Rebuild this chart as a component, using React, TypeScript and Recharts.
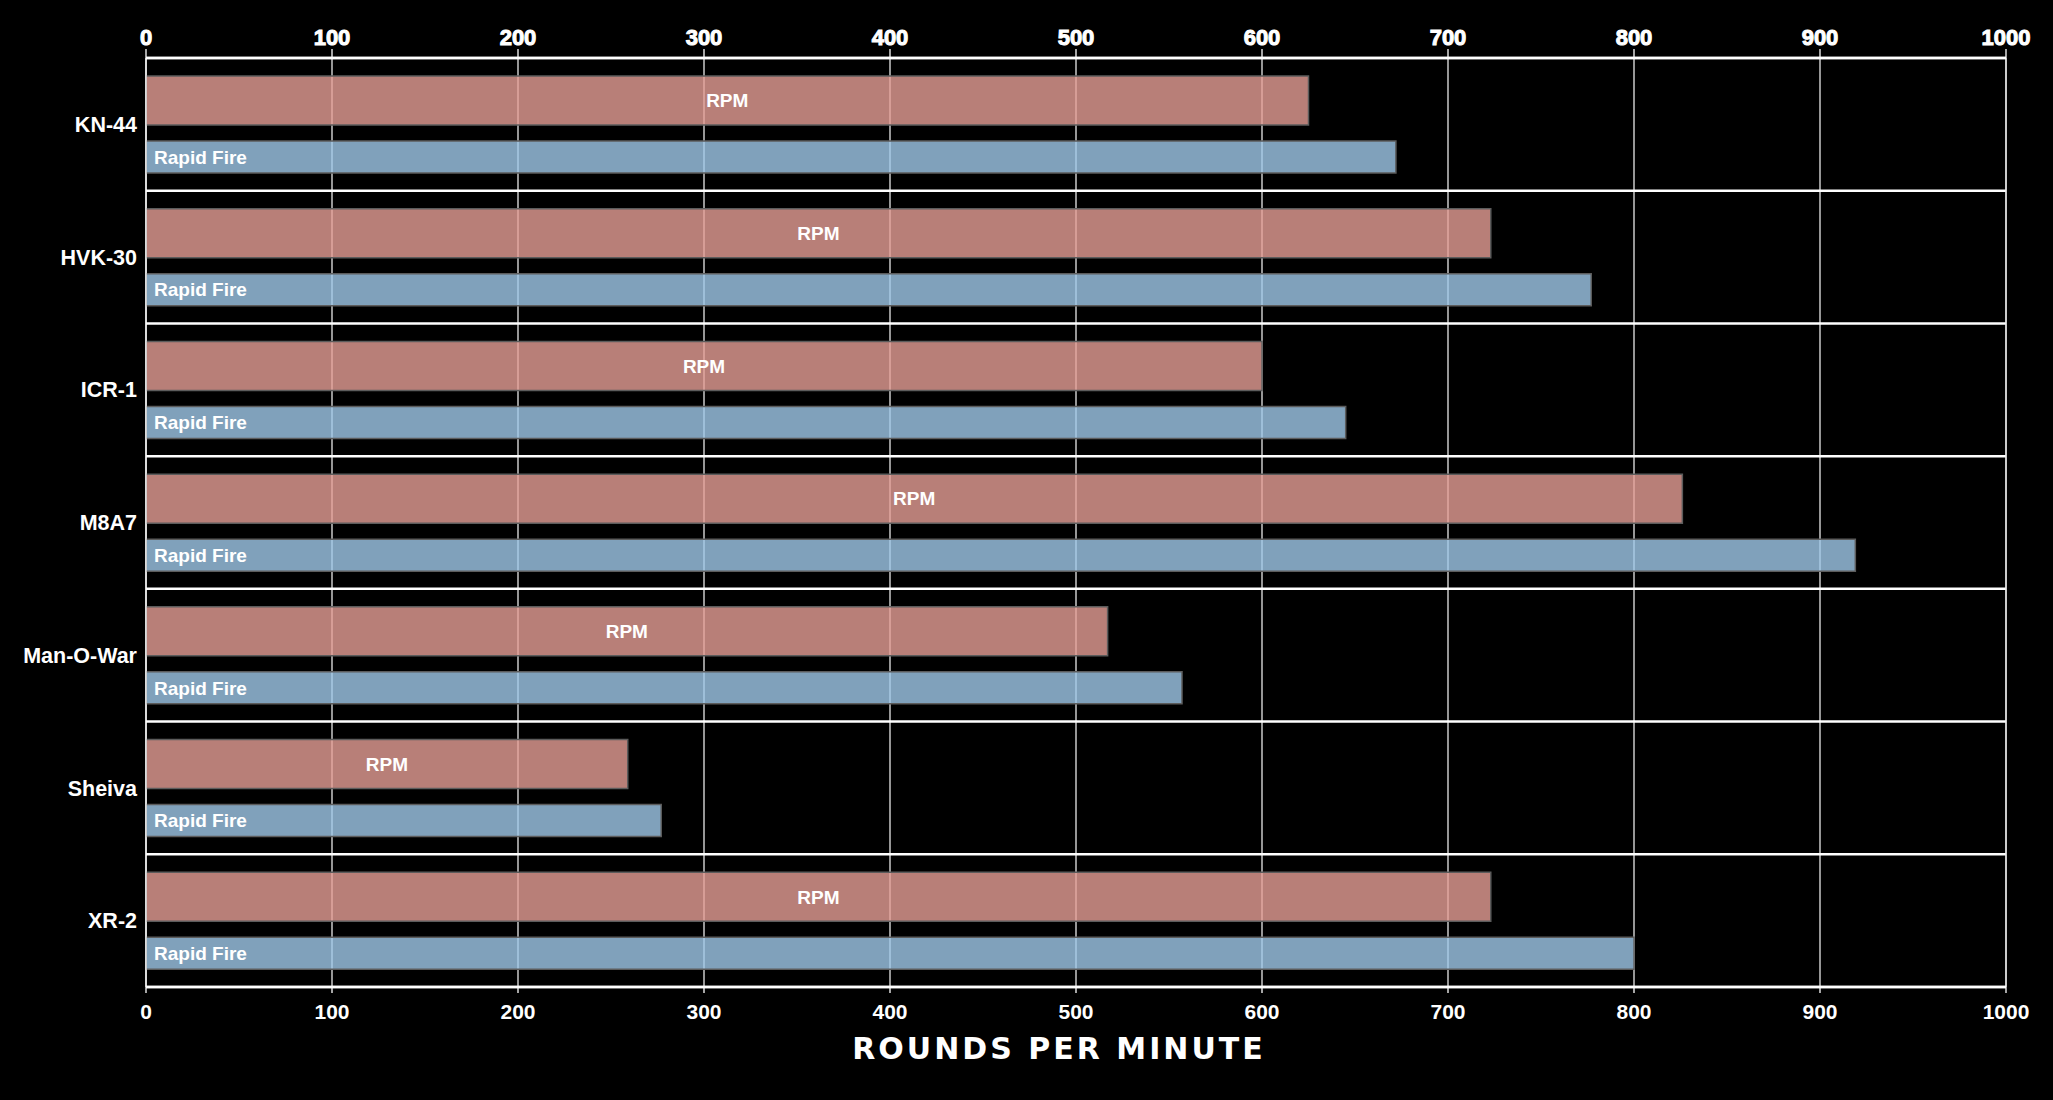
import { BarChart, Bar, XAxis, YAxis, CartesianGrid, ReferenceLine, LabelList } from 'recharts'

const WEAPONS = ['KN-44', 'HVK-30', 'ICR-1', 'M8A7', 'Man-O-War', 'Sheiva', 'XR-2']
const RPM = [625, 723, 600, 826, 517, 259, 723]
const RAPID_FIRE = [672, 777, 645, 919, 557, 277, 800]
const X_TICKS = [0, 100, 200, 300, 400, 500, 600, 700, 800, 900, 1000]

const data = WEAPONS.map((name, i) => ({ name, rpm: RPM[i], rapid: RAPID_FIRE[i] }))

const FONT = '"Liberation Sans", Arial, sans-serif'
const W = 2053
const H = 1100

function AxisTitle({ viewBox }: { viewBox?: { x: number; y: number; width: number; height: number } }) {
    if (!viewBox) return null
    return (
        <text
            x={viewBox.x + viewBox.width / 2 - 17}
            y={viewBox.y + 72}
            textAnchor="middle"
            fill="#fff"
            fontFamily='"DejaVu Sans", sans-serif'
            fontWeight={700}
            fontSize={30}
            letterSpacing={3}
        >
            ROUNDS PER MINUTE
        </text>
    )
}

export default function App() {
    return (
        <div style={{ position: 'fixed', left: 0, top: 0, width: W, height: H, background: '#000' }}>
            <BarChart
                width={W}
                height={H}
                data={data}
                layout="vertical"
                margin={{ top: 0, right: 47, bottom: 0, left: 0 }}
                barGap={16}
            >
                <CartesianGrid horizontal={false} vertical stroke="#e8e8e8" strokeWidth={1.3} />
                <XAxis
                    type="number"
                    domain={[0, 1000]}
                    ticks={X_TICKS}
                    allowDataOverflow
                    orientation="bottom"
                    height={113}
                    axisLine={{ stroke: '#fff', strokeWidth: 2.5 }}
                    tickLine={{ stroke: '#fff', strokeWidth: 1.3 }}
                    tickSize={6}
                    tickMargin={11}
                    tick={{ fill: '#fff', fontSize: 21, fontWeight: 700, fontFamily: FONT }}
                    label={<AxisTitle />}
                />
                <XAxis
                    xAxisId="top"
                    type="number"
                    domain={[0, 1000]}
                    ticks={X_TICKS}
                    allowDataOverflow
                    orientation="top"
                    height={58}
                    axisLine={{ stroke: '#fff', strokeWidth: 2.5 }}
                    tickLine={{ stroke: '#fff', strokeWidth: 1.3 }}
                    tickSize={9}
                    tickMargin={4}
                    tick={{ fill: '#fff', stroke: '#fff', strokeWidth: 1, fontSize: 22, fontWeight: 700, fontFamily: FONT }}
                />
                <YAxis
                    type="category"
                    dataKey="name"
                    width={146}
                    axisLine={{ stroke: '#fff', strokeWidth: 1.3 }}
                    tickLine={false}
                    tickSize={0}
                    tickMargin={9}
                    tick={{ fill: '#fff', fontSize: 21.5, fontWeight: 700, fontFamily: FONT }}
                />
                {WEAPONS.map((w) => (
                    <ReferenceLine key={w} y={w} position="start" stroke="#fff" strokeWidth={2.5} />
                ))}
                <ReferenceLine y={WEAPONS[WEAPONS.length - 1]} position="end" stroke="#fff" strokeWidth={2.5} />
                <ReferenceLine x={1000} stroke="#e8e8e8" strokeWidth={1.3} />
                <Bar
                    dataKey="rpm"
                    barSize={49}
                    fill="#e69f96"
                    fillOpacity={0.8}
                    stroke="#5c5c5c"
                    strokeWidth={1.5}
                    isAnimationActive={false}
                >
                    <LabelList
                        dataKey="rpm"
                        position="center"
                        formatter={() => 'RPM'}
                        fill="#fff"
                        fontSize={19}
                        fontWeight={700}
                        fontFamily={FONT}
                    />
                </Bar>
                <Bar
                    dataKey="rapid"
                    barSize={32}
                    fill="#a0c9ea"
                    fillOpacity={0.8}
                    stroke="#5c5c5c"
                    strokeWidth={1.5}
                    isAnimationActive={false}
                >
                    <LabelList
                        dataKey="rapid"
                        position="insideLeft"
                        offset={8}
                        formatter={() => 'Rapid Fire'}
                        fill="#fff"
                        fontSize={19}
                        fontWeight={700}
                        fontFamily={FONT}
                    />
                </Bar>
            </BarChart>
        </div>
    )
}
